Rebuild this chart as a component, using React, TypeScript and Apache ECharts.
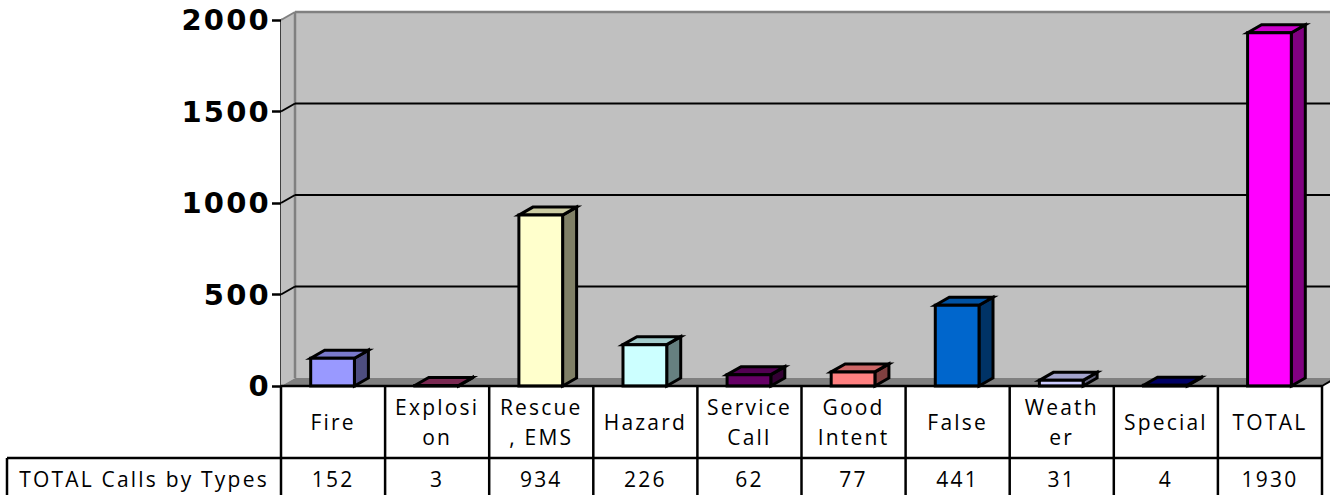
import React, { useEffect, useRef } from "react";
import * as echarts from "echarts";

const categories = ["Fire", "Explosi\non", "Rescue\n, EMS", "Hazard", "Service\nCall", "Good\nIntent", "False", "Weath\ner", "Special", "TOTAL"];
const values = [152, 3, 934, 226, 62, 77, 441, 31, 4, 1930];
const frontColors = ["#9999FF", "#993366", "#FFFFCC", "#CCFFFF", "#660066", "#FF8080", "#0066CC", "#CCCCFF", "#000080", "#FF00FF"];
const yTicks = [0, 500, 1000, 1500, 2000];
const rowTitle = "TOTAL Calls by Types";

const shade = (hex: string, f: number) => {
  const n = parseInt(hex.slice(1), 16);
  const c = [(n >> 16) & 255, (n >> 8) & 255, n & 255].map((v) => Math.round(v * f));
  return `rgb(${c[0]},${c[1]},${c[2]})`;
};

const DX = 14;
const DY = 8;
const LW = 2.5;
const TABLE_BOTTOM = 497;
const ROW_Y = 458;
const TABLE_LEFT = 7;
const tableFont = "21px 'Open Sans'";

export default function App() {
  const ref = useRef<HTMLDivElement>(null);
  useEffect(() => {
    document.body.style.margin = "0";
    const chart = echarts.init(ref.current!, undefined, { renderer: "svg" });
    const line = (x1: number, y1: number, x2: number, y2: number, stroke = "#000", lineWidth = LW) => ({
      type: "line",
      shape: { x1, y1, x2, y2 },
      style: { stroke, lineWidth },
    });
    const poly = (points: number[][], fill: string, stroke: string = "#000", lineWidth = 3) => ({
      type: "polygon",
      shape: { points },
      style: { fill, stroke, lineWidth, lineJoin: "miter" },
    });
    chart.setOption({
      animation: false,
      backgroundColor: "#fff",
      grid: { left: 281, right: 8, top: 20, bottom: 109 },
      xAxis: {
        type: "category",
        data: categories,
        axisLine: { show: false },
        axisTick: { show: false },
        axisLabel: {
          interval: 0,
          margin: 36,
          verticalAlign: "middle",
          lineHeight: 30,
          color: "#000",
          fontFamily: "Open Sans",
          fontSize: 21,
        },
      },
      yAxis: {
        type: "value",
        min: 0,
        max: 2000,
        interval: 500,
        splitLine: { show: false },
        axisLine: { show: true, lineStyle: { color: "#000", width: LW } },
        axisTick: { show: true, length: 9, lineStyle: { color: "#000", width: LW } },
        axisLabel: {
          margin: 10,
          formatter: (v: number) => String(v),
          color: "#000",
          fontFamily: "DejaVu Sans",
          fontWeight: "bold",
          fontSize: 29,
        },
      },
      series: [
        {
          type: "custom",
          clip: false,
          silent: true,
          z: 1,
          data: yTicks.map((t) => [0, t]),
          encode: { x: 0, y: 1 },
          renderItem: (_p: any, api: any) => {
            const t = api.value(1);
            const band = api.size([1, 0])[0];
            const left = api.coord([0, 0])[0] - band / 2;
            const right = left + band * categories.length;
            const y = api.coord([0, t])[1];
            const y0 = api.coord([0, 0])[1];
            const yTop = api.coord([0, 2000])[1];
            const children: any[] = [];
            if (t === 0) {
              children.push(
                { type: "rect", shape: { x: left + DX, y: yTop - DY, width: right - left + 40, height: y0 - yTop }, style: { fill: "#C0C0C0" } },
                { type: "polygon", shape: { points: [[left, y0], [left + DX, y0 - DY], [left + DX, yTop - DY], [left, yTop]] }, style: { fill: "#C0C0C0" } },
                { type: "polygon", shape: { points: [[left, y0], [left + DX, y0 - DY], [right + DX, y0 - DY], [right, y0]] }, style: { fill: "#808080" } },
                line(left + DX, y0 - DY, left + DX, yTop - DY, "#808080", 2.5),
                line(left, yTop, left + DX, yTop - DY, "#808080", 2),
                line(left + DX, yTop - DY, right + DX, yTop - DY, "#808080", 2.5),
                line(right, y0, right + DX, y0 - DY, "#000", 2)
              );
            } else {
              if (t < 2000) children.push(line(left + DX, y - DY, right + DX + 20, y - DY, "#000", 2), line(left, y, left + DX, y - DY, "#000", 2));
            }
            return { type: "group", children };
          },
        },
        {
          type: "custom",
          clip: false,
          silent: true,
          z: 5,
          data: values.map((v, i) => [i, v]),
          encode: { x: 0, y: 1 },
          renderItem: (p: any, api: any) => {
            const i = api.value(0);
            const v = api.value(1);
            const band = api.size([1, 0])[0];
            const w = band * 0.42;
            const [cx, yv] = api.coord([i, v]);
            const y0 = api.coord([i, 0])[1];
            const l = cx - w / 2 - 0.5;
            const r = l + w;
            const col = frontColors[i];
            return {
              type: "group",
              children: [
                poly([[r, yv], [r + DX, yv - DY], [r + DX, y0 - DY], [r, y0]], shade(col, 0.5)),
                poly([[l, yv], [l + DX, yv - DY], [r + DX, yv - DY], [r, yv]], shade(col, 0.8)),
                poly([[l, yv], [r, yv], [r, y0], [l, y0]], col),
              ],
            };
          },
        },
        {
          type: "custom",
          clip: false,
          silent: true,
          z: 6,
          data: values.map((v, i) => [i, v]),
          encode: { x: 0, y: 1 },
          renderItem: (p: any, api: any) => {
            const i = api.value(0);
            const v = api.value(1);
            const band = api.size([1, 0])[0];
            const cx = api.coord([i, v])[0];
            const y0 = api.coord([i, 0])[1];
            const right = cx + band / 2;
            const children: any[] = [
              line(right, y0, right, TABLE_BOTTOM),
              {
                type: "text",
                style: { text: String(v), x: cx, y: 479, align: "center", verticalAlign: "middle", font: tableFont, fill: "#000" },
              },
            ];
            if (i === 0) {
              const left = cx - band / 2;
              children.push(
                line(left, y0, left + band * categories.length, y0),
                line(TABLE_LEFT, ROW_Y, left + band * categories.length, ROW_Y),
                line(TABLE_LEFT, ROW_Y, TABLE_LEFT, TABLE_BOTTOM),
                line(left, y0, left, TABLE_BOTTOM),
                {
                  type: "text",
                  style: { text: rowTitle, x: (TABLE_LEFT + left) / 2, y: 479, align: "center", verticalAlign: "middle", font: tableFont, fill: "#000" },
                }
              );
            }
            return { type: "group", children };
          },
        },
      ],
    });
    return () => chart.dispose();
  }, []);
  return (
    <>
      <style>{`svg text{letter-spacing:2.2px} svg text[style*="bold"]{letter-spacing:2.2px}`}</style>
      <div ref={ref} style={{ position: "absolute", left: 0, top: 0, width: 1330, height: 495, overflow: "hidden" }} />
    </>
  );
}
